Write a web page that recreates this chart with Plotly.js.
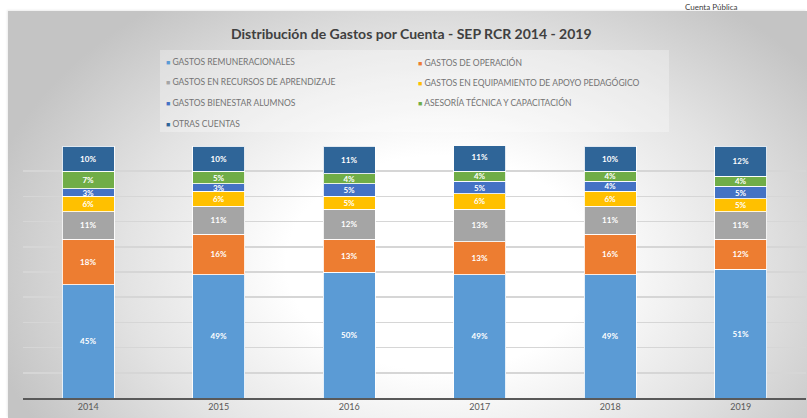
<!DOCTYPE html>
<html>
<head>
<meta charset="utf-8">
<script src="https://cdn.plot.ly/plotly-3.0.1.min.js"></script>
<style>
  html, body { margin: 0; padding: 0; background: #ffffff; }
  #wrap { position: relative; width: 807px; height: 418px; overflow: hidden; }
  #panel {
    position: absolute; left: 8px; top: 11px; width: 799px; height: 407px;
    background: radial-gradient(ellipse 58% 80% at 54% 62%, #ffffff 33%, #e3e3e3 68%, #c4c4c4 100%);
    box-shadow: -1px -1px 2px rgba(0,0,0,0.08);
  }
  #chart { position: absolute; left: 0; top: 0; width: 807px; height: 418px; }
</style>
</head>
<body>
<div id="wrap">
  <div id="panel"></div>
  <div id="chart"></div>
</div>
<script>
const years = ['2014', '2015', '2016', '2017', '2018', '2019'];
const seriesNames = [
  'GASTOS REMUNERACIONALES',
  'GASTOS DE OPERACIÓN',
  'GASTOS EN RECURSOS DE APRENDIZAJE',
  'GASTOS EN EQUIPAMIENTO DE APOYO PEDAGÓGICO',
  'GASTOS BIENESTAR ALUMNOS',
  'ASESORÍA TÉCNICA Y CAPACITACIÓN',
  'OTRAS CUENTAS'
];
const remuneracionales = [45, 49, 50, 49, 49, 51];
const operacion        = [18, 16, 13, 13, 16, 12];
const recursos         = [11, 11, 12, 13, 11, 11];
const equipamiento     = [6, 6, 5, 6, 6, 5];
const bienestar        = [3, 3, 5, 5, 4, 5];
const asesoria         = [7, 5, 4, 4, 4, 4];
const otras            = [10, 10, 11, 11, 10, 12];
const seriesValues = [remuneracionales, operacion, recursos, equipamiento, bienestar, asesoria, otras];
const colors = ['#5b9bd5', '#ed7d31', '#a5a5a5', '#ffc000', '#4472c4', '#70ad47', '#2f6598'];

const traces = seriesValues.map((vals, i) => ({
  type: 'bar',
  name: seriesNames[i],
  x: years,
  y: vals,
  marker: { color: colors[i], line: { color: 'rgba(255,255,255,0.85)', width: 1 } },
  text: vals.map(v => v + '%'),
  texttemplate: '%{text}',
  textposition: 'inside',
  insidetextanchor: 'middle',
  textangle: 0,
  textfont: { family: 'Lato, sans-serif', size: 8, color: '#ffffff', weight: 'bold' },
  hoverinfo: 'skip',
  showlegend: false
}));

// layout geometry (pixels)
const W = 807, H = 418, ML = 23, MR = 1, MT = 146, MB = 20;
const PW = W - ML - MR, PH = H - MT - MB;
const px2x = p => (p - ML) / PW;
const py2y = p => (H - MB - p) / PH;

const rowsY = [62, 82, 103, 124];
const colsX = [164, 416];
const legendAnnots = seriesNames.map((n, i) => ({
  xref: 'paper', yref: 'paper',
  x: px2x(colsX[i % 2]), y: py2y(rowsY[Math.floor(i / 2)]),
  xanchor: 'left', yanchor: 'middle',
  showarrow: false,
  text: '<span style="color:' + colors[i] + ';font-size:7px">■</span> ' + n,
  font: { family: 'Lato, sans-serif', size: 8.5, color: '#737373' }
}));

const layout = {
  width: W, height: H,
  margin: { l: ML, r: MR, t: MT, b: MB },
  paper_bgcolor: 'rgba(0,0,0,0)',
  plot_bgcolor: 'rgba(0,0,0,0)',
  barmode: 'stack',
  bargap: 0.605,
  showlegend: false,
  uniformtext: { mode: 'show', minsize: 8 },
  font: { family: 'Lato, sans-serif' },
  xaxis: {
    type: 'category',
    showgrid: false,
    showline: true, linecolor: '#595959', linewidth: 1.5,
    ticks: '',
    tickfont: { family: 'Lato, sans-serif', size: 9, color: '#595959' },
    fixedrange: true
  },
  yaxis: {
    range: [0, 100],
    dtick: 10,
    showgrid: true, gridcolor: '#d6d6d6', gridwidth: 1.5,
    zeroline: false,
    showticklabels: false,
    ticks: '',
    fixedrange: true
  },
  shapes: [{
    type: 'rect', xref: 'paper', yref: 'paper', layer: 'below',
    x0: px2x(160), x1: px2x(669), y0: py2y(132), y1: py2y(50),
    fillcolor: 'rgba(255,255,255,0.3)', line: { width: 0 }
  }],
  annotations: [
    {
      xref: 'paper', yref: 'paper', x: px2x(411), y: py2y(33),
      xanchor: 'center', yanchor: 'middle', showarrow: false,
      text: '<b>Distribución de Gastos por Cuenta - SEP RCR 2014 - 2019</b>',
      font: { family: 'Lato, sans-serif', size: 14, color: '#404040' }
    },
    {
      xref: 'paper', yref: 'paper', x: px2x(711), y: py2y(0),
      xanchor: 'center', yanchor: 'top', showarrow: false,
      text: 'Cuenta Pública',
      font: { family: 'Lato, sans-serif', size: 8, color: '#404040' }
    }
  ].concat(legendAnnots)
};

Plotly.newPlot('chart', traces, layout, { displayModeBar: false, staticPlot: true });
</script>
</body>
</html>
